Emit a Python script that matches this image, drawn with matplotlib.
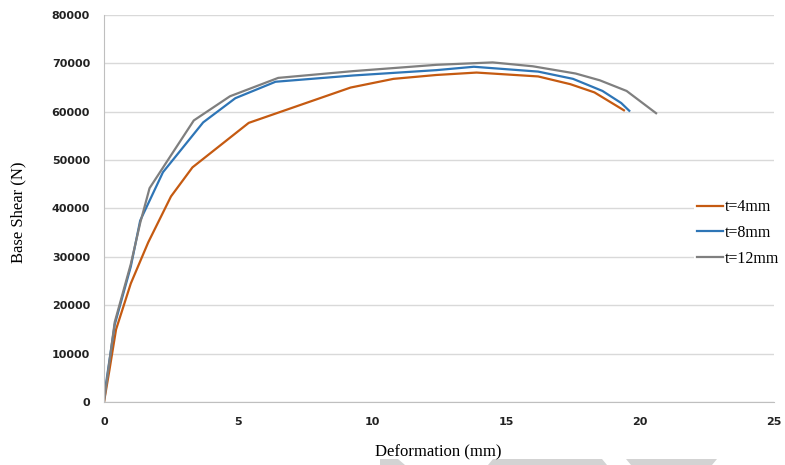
import matplotlib
matplotlib.use("Agg")
import matplotlib.pyplot as plt
from matplotlib.patches import Polygon

# deformation (mm) / base shear (N)
x_t4 = [0, 0.2, 0.45, 1.0, 1.65, 2.5, 3.3, 5.4, 9.2, 10.8, 12.4, 13.9, 16.2, 17.4, 18.3, 19.4]
y_t4 = [0, 6500, 15000, 24500, 33000, 42500, 48500, 57700, 65000, 66800, 67600, 68100, 67300, 65700, 64000, 60300]

x_t8 = [0, 0.4, 1.0, 1.35, 2.2, 3.7, 4.9, 6.4, 9.3, 12.4, 13.8, 16.2, 17.5, 18.6, 19.3, 19.6]
y_t8 = [1000, 16000, 28000, 37500, 47500, 57800, 62800, 66200, 67500, 68600, 69300, 68300, 66800, 64300, 61800, 60200]

x_t12 = [0, 0.4, 1.0, 1.35, 1.7, 2.5, 3.35, 4.7, 6.5, 9.3, 12.4, 14.5, 16.0, 17.6, 18.5, 19.5, 20.6]
y_t12 = [0, 16500, 28500, 37000, 44200, 51000, 58200, 63200, 67000, 68400, 69700, 70200, 69400, 67900, 66500, 64300, 59700]

labels = ["t=4mm", "t=8mm", "t=12mm"]
colors = ["#C55A11", "#2E75B6", "#7F7F7F"]

W, H = 785, 465
fig = plt.figure(figsize=(W / 100, H / 100), dpi=100)
ax = fig.add_axes([104 / W, (H - 402) / H, (774 - 104) / W, (402 - 15) / H])

series = [(x_t4, y_t4), (x_t8, y_t8), (x_t12, y_t12)]
for (xs, ys), lab, c in zip(series, labels, colors):
    ax.plot(xs, ys, color=c, lw=1.6, label=lab)

ax.set_xlim(0, 25)
ax.set_ylim(0, 80000)
ax.set_xticks(range(0, 26, 5))
ax.set_yticks(range(0, 80001, 10000))
ax.grid(axis="y", color="#D9D9D9", lw=1)
ax.set_axisbelow(True)
for s in ["top", "right"]:
    ax.spines[s].set_visible(False)
for s in ["left", "bottom"]:
    ax.spines[s].set_color("#BFBFBF")
ax.tick_params(length=0)
ax.tick_params(axis="y", pad=10)
ax.tick_params(axis="x", pad=11)
for t in ax.get_xticklabels() + ax.get_yticklabels():
    t.set_fontsize(8)
    t.set_fontweight("bold")
    t.set_color("#222222")

fig.text(438 / W, 1 - 452 / H, "Deformation (mm)", family="Liberation Serif",
         fontsize=12, ha="center", va="center")
fig.text(18 / W, 1 - 212 / H, "Base Shear (N)", family="Liberation Serif",
         fontsize=12, ha="center", va="center", rotation=90)

leg = ax.legend(loc="center left", bbox_to_anchor=(694 / W, 1 - 233 / H),
                bbox_transform=fig.transFigure, frameon=True, framealpha=1,
                edgecolor="none", facecolor="white", fancybox=False,
                prop={"family": "Liberation Serif", "size": 11.5},
                handlelength=1.6, handletextpad=0.1, labelspacing=0.6,
                borderpad=0.2, borderaxespad=0)

# faint page marks along the bottom edge
marks = [
    [(380, 459), (398, 459), (405, 465), (380, 465)],
    [(493, 459), (602, 459), (607, 465), (488, 465)],
    [(626, 459), (717, 459), (712, 465), (631, 465)],
]
for pts in marks:
    fig.patches.append(Polygon([(px / W, 1 - py / H) for px, py in pts], closed=True,
                               transform=fig.transFigure, facecolor="#D3D3D3",
                               edgecolor="none", zorder=0))

fig.savefig("out.png", dpi=100)
